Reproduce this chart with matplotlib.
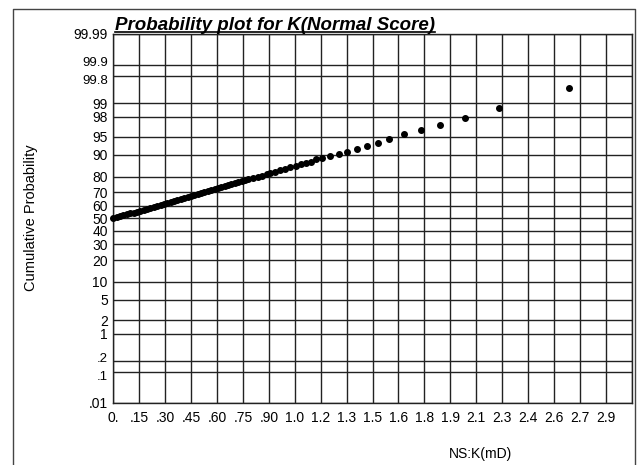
import math
import numpy as np
import matplotlib
matplotlib.use("Agg")
import matplotlib.pyplot as plt
from matplotlib.lines import Line2D
from matplotlib.transforms import ScaledTranslation

# ---- data ----
ns_score = [0.00, 0.02, 0.04, 0.06, 0.08, 0.10, 0.12, 0.14, 0.16, 0.18,
            0.20, 0.22, 0.24, 0.26, 0.28, 0.30, 0.32, 0.34, 0.36, 0.38,
            0.40, 0.42, 0.44, 0.46, 0.48, 0.50, 0.52, 0.54, 0.56, 0.58,
            0.60, 0.62, 0.64, 0.66, 0.68, 0.70, 0.72, 0.74, 0.76, 0.78,
            0.80, 0.83, 0.86, 0.88, 0.91, 0.93, 0.96, 0.99, 1.02, 1.05,
            1.08, 1.11, 1.14, 1.17, 1.20, 1.237, 1.284, 1.336, 1.387, 1.442,
            1.502, 1.567, 1.636, 1.723, 1.822, 1.936, 2.084, 2.287, 2.699]
cum_prob = [50.0, 50.78, 51.56, 52.34, 53.12, 53.90, 54.68, 55.46, 56.23, 57.00,
            57.77, 58.53, 59.30, 60.06, 60.81, 61.56, 62.31, 63.05, 63.79, 64.52,
            65.25, 65.97, 66.68, 67.39, 68.10, 68.79, 69.48, 70.17, 70.84, 71.51,
            72.17, 72.83, 73.47, 74.11, 74.74, 75.37, 75.98, 76.58, 77.18, 77.77,
            78.35, 79.20, 80.03, 80.58, 81.38, 81.90, 82.66, 83.40, 84.12, 84.83,
            85.51, 86.17, 86.81, 87.42, 88.30, 88.93, 89.56, 90.27, 91.05, 91.99,
            92.85, 93.60, 94.60, 95.50, 96.21, 97.01, 97.88, 98.72, 99.57]

y_ticks = [0.01, 0.1, 0.2, 1, 2, 5, 10, 20, 30, 40, 50, 60, 70, 80, 90, 95, 98, 99, 99.8, 99.9, 99.99]
y_tick_labels = [".01", ".1", ".2", "1", "2", "5", "10", "20", "30", "40", "50", "60",
                 "70", "80", "90", "95", "98", "99", "99.8", "99.9", "99.99"]
x_step = 0.1536
x_tick_labels = ["0.", ".15", ".30", ".45", ".60", ".75", ".90", "1.0", "1.2", "1.3",
                 "1.5", "1.6", "1.8", "1.9", "2.1", "2.3", "2.4", "2.6", "2.7", "2.9"]

# ---- normal probability scale ----
_a = [-3.969683028665376e+01, 2.209460984245205e+02, -2.759285104469687e+02,
      1.383577518672690e+02, -3.066479806614716e+01, 2.506628277459239e+00]
_b = [-5.447609879822406e+01, 1.615858368580409e+02, -1.556989798598866e+02,
      6.680131188771972e+01, -1.328068155288572e+01]
_c = [-7.784894002430293e-03, -3.223964580411365e-01, -2.400758277161838e+00,
      -2.549732539343734e+00, 4.374664141464968e+00, 2.938163982698783e+00]
_d = [7.784695709041462e-03, 3.224671290700398e-01, 2.445134137142996e+00,
      3.754408661907416e+00]


def _ppf1(p):
    p = min(max(p, 1e-12), 1 - 1e-12)
    plow = 0.02425
    if p < plow:
        q = math.sqrt(-2 * math.log(p))
        return (((((_c[0]*q+_c[1])*q+_c[2])*q+_c[3])*q+_c[4])*q+_c[5]) / \
               ((((_d[0]*q+_d[1])*q+_d[2])*q+_d[3])*q+1)
    if p > 1 - plow:
        q = math.sqrt(-2 * math.log(1 - p))
        return -(((((_c[0]*q+_c[1])*q+_c[2])*q+_c[3])*q+_c[4])*q+_c[5]) / \
                ((((_d[0]*q+_d[1])*q+_d[2])*q+_d[3])*q+1)
    q = p - 0.5
    r = q * q
    return (((((_a[0]*r+_a[1])*r+_a[2])*r+_a[3])*r+_a[4])*r+_a[5])*q / \
           (((((_b[0]*r+_b[1])*r+_b[2])*r+_b[3])*r+_b[4])*r+1)


def fwd(pct):
    pct = np.asarray(pct, dtype=float)
    return np.vectorize(lambda v: _ppf1(v / 100.0), otypes=[float])(pct)


def inv(z):
    z = np.asarray(z, dtype=float)
    return np.vectorize(lambda v: 50.0 * (1 + math.erf(v / math.sqrt(2))), otypes=[float])(z)


plt.rcParams['font.family'] = ['Liberation Sans', 'DejaVu Sans']

fig = plt.figure(figsize=(6.44, 4.65), dpi=100)
ax = fig.add_axes([113.3 / 644, 1 - 402.7 / 465, (631.7 - 113.3) / 644, (402.7 - 34) / 465])
ax.set_yscale('function', functions=(fwd, inv))
ax.set_ylim(0.01, 99.99)
ax.set_xlim(0, x_step * 20)

xt = [x_step * i for i in range(len(x_tick_labels))]
ax.set_xticks(xt)
ax.set_xticklabels(x_tick_labels)
ax.set_xticks([x_step * 20], minor=True)
ax.set_yticks(y_ticks)
ax.set_yticklabels(y_tick_labels)
ax.yaxis.set_minor_locator(matplotlib.ticker.NullLocator())

ax.grid(True, which='both', color='#222222', linewidth=1.0)
ax.set_axisbelow(True)
ax.tick_params(axis='both', which='both', length=0, labelsize=10, colors='black')
ax.tick_params(axis='x', pad=6)
ax.tick_params(axis='y', pad=4)
for s in ax.spines.values():
    s.set_color('#222222')
    s.set_linewidth(1.0)

# nudge the crowded label pairs apart a little
nudge = {"99.9": 2.5, "99.8": -2.5, ".2": 2.5, ".1": -2.5}
for lab in ax.get_yticklabels():
    dy = nudge.get(lab.get_text(), 0)
    if dy:
        lab.set_transform(lab.get_transform() + ScaledTranslation(0, dy / 72, fig.dpi_scale_trans))
        lab.set_fontsize(9.5)

ax.plot(ns_score, cum_prob, linestyle='none', marker='o', markersize=4.0,
        color='black', clip_on=False, zorder=3)

# labels
fig.text(31 / 644, 1 - 218 / 465, "Cumulative Probability", rotation=90,
         ha='center', va='center', fontsize=10.5)
fig.text(480 / 644, 1 - 454 / 465, "NS:K(mD)", ha='center', va='center', fontsize=10)
title = fig.text(115 / 644, 1 - 25 / 465, "Probability plot for K(Normal Score)",
                 ha='left', va='center', fontsize=13.5, fontweight='bold', fontstyle='italic')

fig.canvas.draw()
bb = title.get_window_extent().transformed(fig.transFigure.inverted())
fig.add_artist(Line2D([bb.x0, bb.x1], [1 - 32.5 / 465] * 2, color='black', linewidth=1.2,
                      transform=fig.transFigure))

# outer frame (left, top, right)
fx0, fx1, fy1 = 13 / 644, 635 / 644, 1 - 9 / 465
fig.add_artist(Line2D([fx0, fx0, fx1, fx1], [-0.01, fy1, fy1, -0.01], color='#444444',
                      linewidth=1.0, transform=fig.transFigure))

fig.savefig("out.png", dpi=100)
